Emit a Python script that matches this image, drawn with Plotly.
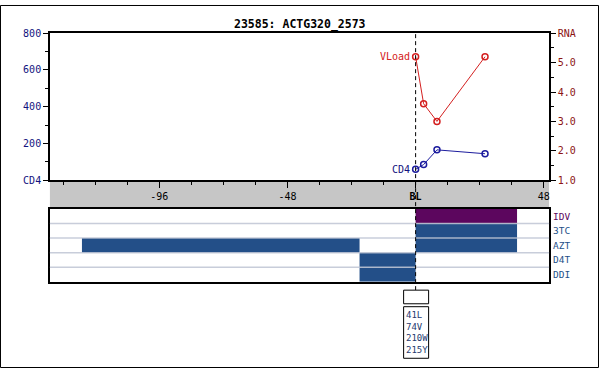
import plotly.graph_objects as go

W, H = 600, 373

# ---- data ----
title = "23585: ACTG320_2573"
weeks = [0, 3, 8, 26]
cd4 = [59, 85, 165, 144]
vload = [5.2, 3.6, 3.0, 5.2]

drugs = ["IDV", "3TC", "AZT", "D4T", "DDI"]
drug_starts = [[0], [0], [-125, 0], [-21], [-21]]
drug_ends = [[38], [38], [-21, 38], [0], [0]]
drug_colors = ["#5c065e", "#234f88", "#234f88", "#234f88", "#234f88"]

mutations = ["41L", "74V", "210W", "215Y"]

x_major = [-96, -48, 0, 48]
x_major_text = ["-96", "-48", "<b>BL</b>", "48"]
x_minor = [-132, -120, -108, -84, -72, -60, -36, -24, -12, 12, 24, 36]
cd4_ticks = [0, 200, 400, 600, 800]
cd4_text = ["CD4", "200", "400", "600", "800"]
cd4_minor = [100, 300, 500, 700]
rna_ticks = [1, 2, 3, 4, 5, 6]
rna_text = ["1.0", "2.0", "3.0", "4.0", "5.0", "RNA"]
rna_minor = [1.5, 2.5, 3.5, 4.5, 5.5]

# ---- styles ----
MONO = "DejaVu Sans Mono"
NAVY = "#12127e"
CD4_C = "#1c1c9e"
RED = "#d42020"
DRED = "#8c1414"


def px_x(p):
    return p / W


def px_y(p):
    return (H - p) / H


fig = go.Figure()

fig.add_trace(go.Scatter(
    x=weeks, y=cd4, mode="lines+markers", xaxis="x", yaxis="y",
    line=dict(color=CD4_C, width=1),
    marker=dict(symbol="circle-open", size=6, color=CD4_C, line=dict(width=1.5)),
    showlegend=False, hoverinfo="skip"))
fig.add_trace(go.Scatter(
    x=weeks, y=vload, mode="lines+markers", xaxis="x", yaxis="y2",
    line=dict(color=RED, width=1),
    marker=dict(symbol="circle-open", size=6, color=RED, line=dict(width=1.5)),
    showlegend=False, hoverinfo="skip"))

for name, ss, ee, col in zip(drugs, drug_starts, drug_ends, drug_colors):
    fig.add_trace(go.Bar(
        y=[name] * len(ss), x=[e - s for s, e in zip(ss, ee)], base=ss,
        orientation="h", width=1.0, xaxis="x2", yaxis="y3",
        marker=dict(color=col, line=dict(width=0)),
        showlegend=False, hoverinfo="skip"))

xdom = [px_x(50), px_x(550)]
xr = [-137, 50]

shapes = []
# outer frame
shapes.append(dict(type="rect", xref="paper", yref="paper",
                   x0=0.5 / W, x1=599.5 / W, y0=0.5 / H, y1=372.5 / H,
                   line=dict(color="black", width=1), layer="above"))
# gray axis band
shapes.append(dict(type="rect", xref="paper", yref="paper",
                   x0=px_x(50), x1=px_x(550), y0=px_y(209), y1=px_y(180),
                   fillcolor="#c6c6c6", line=dict(width=0), layer="below"))
# row separators
for k in range(len(drugs) - 1):
    shapes.append(dict(type="line", xref="x2 domain", yref="y3",
                       x0=0, x1=1, y0=k + 0.5, y1=k + 0.5,
                       line=dict(color="rgba(190,196,212,0.85)", width=1.5),
                       layer="above"))
# baseline dashed line
shapes.append(dict(type="line", xref="x", yref="paper", x0=0, x1=0,
                   y0=px_y(293), y1=px_y(29),
                   line=dict(color="black", width=1, dash="4px,3px"),
                   layer="above"))
# small boxes under baseline
shapes.append(dict(type="rect", xref="x", yref="paper", xsizemode="pixel",
                   xanchor=0, x0=-12, x1=13, y0=px_y(307), y1=px_y(293),
                   line=dict(color="black", width=1), fillcolor="white"))
shapes.append(dict(type="rect", xref="x", yref="paper", xsizemode="pixel",
                   xanchor=0, x0=-12, x1=13, y0=px_y(363), y1=px_y(310),
                   line=dict(color="black", width=1), fillcolor="white"))

annotations = [
    dict(text="<b>" + title + "</b>", xref="paper", yref="paper",
         x=0.5, y=px_y(20), xanchor="center", yanchor="middle",
         showarrow=False, font=dict(family=MONO, size=11.5, color="black")),
    dict(text="VLoad", xref="x", yref="y2", x=weeks[0], y=vload[0],
         xanchor="right", yanchor="middle", xshift=-4, showarrow=False,
         font=dict(family=MONO, size=10, color=RED)),
    dict(text="CD4", xref="x", yref="y", x=weeks[0], y=cd4[0],
         xanchor="right", yanchor="middle", xshift=-4, showarrow=False,
         font=dict(family=MONO, size=10, color=NAVY)),
    dict(text="<br>".join(mutations), xref="x", yref="paper", x=0,
         y=px_y(311), xanchor="left", yanchor="top", xshift=-12,
         align="left", showarrow=False,
         font=dict(family=MONO, size=9, color="#1f3a70")),
]

fig.update_layout(
    width=W, height=H, margin=dict(l=0, r=0, t=0, b=0),
    paper_bgcolor="white", plot_bgcolor="white", barmode="overlay",
    shapes=shapes, annotations=annotations,
    xaxis=dict(domain=xdom, range=xr, anchor="y", showgrid=False,
               zeroline=False, showline=True, linecolor="black", linewidth=2,
               mirror=True, ticks="outside", ticklen=6, tickcolor="black",
               tickvals=x_major, ticktext=x_major_text,
               tickfont=dict(family=MONO, size=10, color="black"),
               minor=dict(tickvals=x_minor, ticks="outside", ticklen=3,
                          tickcolor="black")),
    yaxis=dict(domain=[px_y(180), px_y(29)], range=[0, 800], anchor="x",
               showgrid=False, zeroline=False, showline=True,
               linecolor="black", linewidth=1.5, ticks="outside", ticklen=5,
               tickcolor="black", tickvals=cd4_ticks, ticktext=cd4_text,
               tickfont=dict(family=MONO, size=10, color=NAVY),
               minor=dict(tickvals=cd4_minor, ticks="outside", ticklen=3,
                          tickcolor="black")),
    yaxis2=dict(overlaying="y", side="right", range=[1, 6], anchor="x",
                showgrid=False, zeroline=False, showline=True,
                linecolor="black", linewidth=1.5, ticks="outside", ticklen=5,
                tickcolor="black", tickvals=rna_ticks, ticktext=rna_text,
                tickfont=dict(family=MONO, size=10, color=DRED),
                minor=dict(tickvals=rna_minor, ticks="outside", ticklen=3,
                           tickcolor="black")),
    xaxis2=dict(domain=xdom, range=xr, anchor="y3", showgrid=False,
                zeroline=False, showline=True, linecolor="black",
                linewidth=2, mirror=True, ticks="", showticklabels=False),
    yaxis3=dict(domain=[px_y(284.5), px_y(209.5)], anchor="x2", side="right",
                type="category", categoryorder="array",
                categoryarray=drugs[::-1], range=[-0.5, len(drugs) - 0.5],
                showgrid=False, zeroline=False, showline=True,
                linecolor="black", linewidth=2, mirror=True, ticks="",
                tickvals=drugs,
                ticktext=['<span style="color:%s">%s</span>' % (c, d)
                          for d, c in zip(drugs, drug_colors)],
                tickfont=dict(family=MONO, size=9.5)),
)

fig.write_html("out.html")
